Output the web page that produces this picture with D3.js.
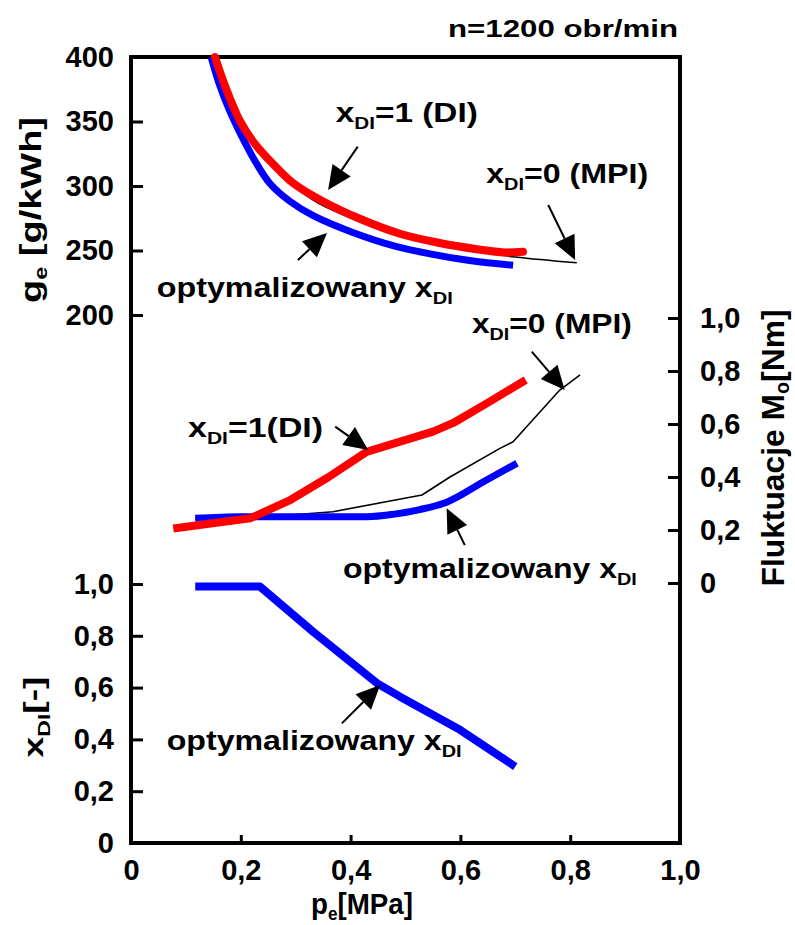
<!DOCTYPE html>
<html><head><meta charset="utf-8">
<script src="https://cdn.jsdelivr.net/npm/d3@7/dist/d3.min.js"></script>
<style>body{margin:0;background:#fff}</style>
</head><body>
<svg id="c" width="795" height="925"></svg>
<script>
// ---------- data ----------
const peTicks = [0, 0.2, 0.4, 0.6, 0.8, 1.0];
const peTickLabels = ["0", "0,2", "0,4", "0,6", "0,8", "1,0"];
const geTicks = [200, 250, 300, 350, 400];
const geTickLabels = ["200", "250", "300", "350", "400"];
const fracTicks = [0, 0.2, 0.4, 0.6, 0.8, 1.0];
const fracTickLabels = ["0", "0,2", "0,4", "0,6", "0,8", "1,0"];

// g_e [g/kWh]
const geDI_pe  = [0.153, 0.17, 0.19, 0.199, 0.225, 0.259, 0.296, 0.35, 0.42, 0.49, 0.56, 0.63, 0.68, 0.714];
const geDI     = [400, 379, 358, 350, 333, 317, 302, 288, 274, 263, 256, 251, 248.5, 249];
const geMPI_pe = [0.15, 0.17, 0.19, 0.225, 0.259, 0.296, 0.34, 0.42, 0.5, 0.6, 0.7, 0.812];
const geMPI    = [400, 378, 357, 332, 315, 300, 287, 272, 260, 251, 245, 240.5];
const geOpt_pe = [0.146, 0.16, 0.18, 0.2, 0.225, 0.253, 0.29, 0.332, 0.404, 0.484, 0.55, 0.62, 0.696];
const geOpt    = [400, 380, 358, 340, 320, 302, 288, 277, 264, 253, 247, 242, 238.5];

// Fluktuacje M_o [Nm]
const mDI_pe  = [0.077, 0.217, 0.29, 0.36, 0.429, 0.55, 0.587, 0.648, 0.719];
const mDI     = [0.206, 0.244, 0.313, 0.40, 0.495, 0.571, 0.604, 0.678, 0.766];
const mMPI_pe = [0.117, 0.217, 0.368, 0.53, 0.581, 0.672, 0.696, 0.781, 0.818];
const mMPI    = [0.24, 0.245, 0.269, 0.332, 0.40, 0.508, 0.533, 0.728, 0.785];
const mOpt_pe = [0.117, 0.2, 0.3, 0.43, 0.477, 0.526, 0.575, 0.642, 0.703];
const mOpt    = [0.244, 0.25, 0.25, 0.25, 0.259, 0.277, 0.305, 0.382, 0.452];

// x_DI [-]
const xOpt_pe = [0.117, 0.235, 0.332, 0.448, 0.49, 0.6, 0.70];
const xOpt    = [0.99, 0.99, 0.815, 0.617, 0.565, 0.436, 0.295];

// annotation texts (parts: [text, isSubscript])
const annTexts = [
  [["x"], ["DI", 1], ["=1 (DI)"]],
  [["x"], ["DI", 1], ["=0 (MPI)"]],
  [["optymalizowany x"], ["DI", 1]],
  [["x"], ["DI", 1], ["=0 (MPI)"]],
  [["x"], ["DI", 1], ["=1(DI)"]],
  [["optymalizowany x"], ["DI", 1]],
  [["optymalizowany x"], ["DI", 1]]
];
const annPanel = ["ge", "ge", "ge", "m", "m", "m", "x"];
// text anchor (pe, value) and arrow (from -> tip) in data units of the panel
const annTextPos = [[0.373, 349.6], [0.647, 302.3], [0.047, 214], [0.621, 0.943], [0.104, 0.552], [0.386, 0.019], [0.065, 0.359]];
const annArrowFrom = [[0.413, 330.5], [0.76, 285.3], [0.304, 242.6], [0.730, 0.873], [0.372, 0.59], [0.608, 0.143], [0.384, 0.462]];
const annArrowTip  = [[0.359, 296.9], [0.809, 242.6], [0.357, 263.6], [0.79, 0.728], [0.432, 0.502], [0.575, 0.282], [0.454, 0.61]];

// ---------- layout ----------
const FONT = "'Liberation Sans', Arial, Helvetica, sans-serif";
const svg = d3.select("#c");
const x  = d3.scaleLinear([0, 1], [131, 680]);
const yG = d3.scaleLinear([200, 400], [315, 57]);
const yM = d3.scaleLinear([0, 1], [583, 318]);
const yX = d3.scaleLinear([0, 1], [843, 584]);
const panelY = {ge: yG, m: yM, x: yX};
const annLen = [142, 162, 296, 160, 135, 294, 295];

function zip(a, b) { return a.map((d, i) => [d, b[i]]); }

function styleAxis(g, fs) {
  g.select(".domain").remove();
  g.selectAll(".tick line").attr("stroke", "#000").attr("stroke-width", 3);
  g.selectAll(".tick text").attr("fill", "#000").attr("font-size", fs)
    .attr("font-weight", "bold").attr("font-family", FONT);
}

// axes
svg.append("g").attr("transform", "translate(131,0)")
  .call(d3.axisLeft(yG).tickValues(geTicks).tickFormat((d, i) => geTickLabels[i])
    .tickSizeInner(-12).tickSizeOuter(0).tickPadding(17))
  .call(g => styleAxis(g, 29));
svg.append("g").attr("transform", "translate(131,0)")
  .call(d3.axisLeft(yX).tickValues(fracTicks).tickFormat((d, i) => fracTickLabels[i])
    .tickSizeInner(-12).tickSizeOuter(0).tickPadding(17))
  .call(g => styleAxis(g, 29));
svg.append("g").attr("transform", "translate(680,0)")
  .call(d3.axisRight(yM).tickValues(fracTicks).tickFormat((d, i) => fracTickLabels[i])
    .tickSizeInner(-12).tickSizeOuter(0).tickPadding(20))
  .call(g => styleAxis(g, 29));
svg.append("g").attr("transform", "translate(0,843)")
  .call(d3.axisBottom(x).tickValues(peTicks).tickFormat((d, i) => peTickLabels[i])
    .tickSizeInner(-8).tickSizeOuter(0).tickPadding(16))
  .call(g => styleAxis(g, 29));

// frame
svg.append("rect").attr("x", x(0)).attr("y", yG(400)).attr("width", x(1) - x(0))
  .attr("height", yX(0) - yG(400)).attr("fill", "none").attr("stroke", "#000").attr("stroke-width", 4);

// lines
function drawLine(pe, v, ys, color, w, curve, cap) {
  svg.append("path").datum(zip(pe, v))
    .attr("d", d3.line().x(d => x(d[0])).y(d => ys(d[1])).curve(curve))
    .attr("fill", "none").attr("stroke", color).attr("stroke-width", w)
    .attr("stroke-linecap", cap || "butt").attr("stroke-linejoin", "round");
}
const RED = "#ff0000", BLUE = "#0000ff";
const smooth = d3.curveCatmullRom.alpha(0.5);
drawLine(geMPI_pe, geMPI, yG, "#000", 1.6, smooth);
drawLine(geOpt_pe, geOpt, yG, BLUE, 7, smooth);
drawLine(geDI_pe, geDI, yG, RED, 8, smooth, "round");
drawLine(mMPI_pe, mMPI, yM, "#000", 1.6, d3.curveLinear);
drawLine(mOpt_pe, mOpt, yM, BLUE, 7, d3.curveMonotoneX);
drawLine(mDI_pe, mDI, yM, RED, 8, d3.curveLinear);
drawLine(xOpt_pe, xOpt, yX, BLUE, 8, d3.curveLinear);

// rich text helper
function richText(g, parts, fs, subShift, subScale) {
  const t = g.append("text").attr("font-family", FONT).attr("font-weight", "bold")
    .attr("font-size", fs).attr("fill", "#000");
  let shifted = false;
  parts.forEach(p => {
    const s = t.append("tspan").text(p[0]);
    if (p[1]) { s.attr("font-size", fs * (subScale || 0.62)).attr("dy", subShift); shifted = true; }
    else if (shifted) { s.attr("dy", -subShift); shifted = false; }
  });
  return t;
}

// annotations
annTexts.forEach((parts, i) => {
  const ys = panelY[annPanel[i]];
  const g = svg.append("g");
  richText(g, parts, 28, 7)
    .attr("x", x(annTextPos[i][0])).attr("y", ys(annTextPos[i][1]))
    .attr("textLength", annLen[i]).attr("lengthAdjust", "spacingAndGlyphs");
  const x1 = x(annArrowFrom[i][0]), y1 = ys(annArrowFrom[i][1]);
  const x2 = x(annArrowTip[i][0]), y2 = ys(annArrowTip[i][1]);
  const L = Math.hypot(x2 - x1, y2 - y1), ux = (x2 - x1) / L, uy = (y2 - y1) / L;
  const hl = 24, hw = 11;
  const bx = x2 - ux * hl, by = y2 - uy * hl;
  g.append("line").attr("x1", x1).attr("y1", y1).attr("x2", bx).attr("y2", by)
    .attr("stroke", "#000").attr("stroke-width", 2);
  g.append("polygon").attr("points",
    [[x2, y2], [bx - uy * hw, by + ux * hw], [bx + uy * hw, by - ux * hw]].map(p => p.join(",")).join(" "))
    .attr("fill", "#000");
});

// titles
svg.append("text").attr("x", 448).attr("y", 37).attr("font-family", FONT).attr("font-weight", "bold")
  .attr("font-size", 24).attr("textLength", 230).attr("lengthAdjust", "spacingAndGlyphs").text("n=1200 obr/min");

const tg = svg.append("g").attr("transform", "translate(41,210) rotate(-90)");
richText(tg, [["g"], ["e", 1], [" [g/kWh]"]], 29, 6).attr("text-anchor", "middle")
  .attr("textLength", 186).attr("lengthAdjust", "spacingAndGlyphs");

const tr = svg.append("g").attr("transform", "translate(784,448) rotate(-90)");
richText(tr, [["Fluktuacje M"], ["o", 1], ["[Nm]"]], 32, 5).attr("text-anchor", "middle")
  .attr("textLength", 277).attr("lengthAdjust", "spacingAndGlyphs");

const tx = svg.append("g").attr("transform", "translate(43,717) rotate(-90)");
richText(tx, [["x"], ["DI", 1], ["[-]"]], 28, 7).attr("text-anchor", "middle")
  .attr("textLength", 81).attr("lengthAdjust", "spacingAndGlyphs");

richText(svg.append("g"), [["p"], ["e", 1], ["[MPa]"]], 29, 6)
  .attr("x", 362).attr("y", 914).attr("text-anchor", "middle")
  .attr("textLength", 102).attr("lengthAdjust", "spacingAndGlyphs");
</script>
</body></html>
